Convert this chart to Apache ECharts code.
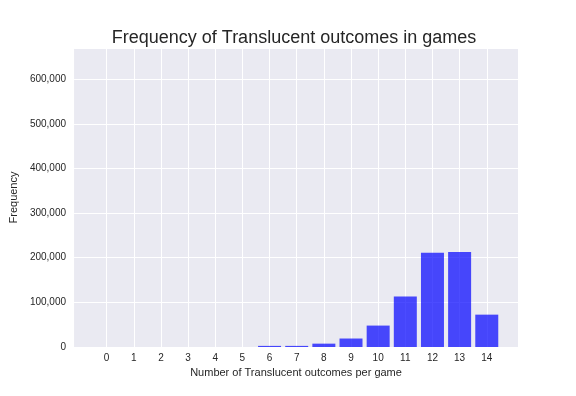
<!DOCTYPE html>
<html><head><meta charset="utf-8">
<script src="https://cdn.jsdelivr.net/npm/echarts@6/dist/echarts.min.js"></script>
<style>html,body{margin:0;padding:0;background:#fff}#c{width:576px;height:396px}</style>
</head><body><div id="c"></div>
<script>
const categories = [0,1,2,3,4,5,6,7,8,9,10,11,12,13,14];
const frequencies = [0,0,0,0,0,0,2500,2500,7500,19000,48000,113000,211000,213000,72500];
const yTicks = [0,100000,200000,300000,400000,500000,600000];

const chart = echarts.init(document.getElementById('c'), null, {renderer:'canvas'});
const font = 'Liberation Sans, Arial, sans-serif';
chart.setOption({
  animation:false,
  backgroundColor:'#ffffff',
  title:{text:'Frequency of Translucent outcomes in games', left:289, top:24, textAlign:'center',
    textStyle:{fontFamily:font, fontSize:18, fontWeight:'normal', color:'#262626'}},
  grid:{left:72, right:58, top:48, bottom:49, backgroundColor:'#EAEAF2', show:true, borderWidth:0},
  xAxis:{type:'value', min:-1.2, max:15.15,
    name:'Number of Translucent outcomes per game', nameLocation:'middle', nameGap:19,
    nameTextStyle:{fontFamily:font, fontSize:11, color:'#262626'},
    axisLine:{show:false}, axisTick:{show:false, customValues:categories},
    axisLabel:{customValues:categories, fontFamily:font, fontSize:10, color:'#262626', margin:6},
    splitLine:{show:true, lineStyle:{color:'#ffffff', width:1}}},
  yAxis:{type:'value', min:0, max:670000, interval:100000,
    name:'Frequency', nameLocation:'middle', nameGap:42,
    nameTextStyle:{fontFamily:font, fontSize:11, color:'#262626'},
    axisLine:{show:false}, axisTick:{show:false},
    axisLabel:{fontFamily:font, fontSize:10, color:'#262626', margin:8,
      customValues:yTicks,
      formatter:v=>v.toLocaleString('en-US')},
    splitLine:{show:true, lineStyle:{color:'#ffffff', width:1}}},
  series:[{type:'bar', data:categories.map((c,i)=>[c,frequencies[i]]), barWidth:23,
    itemStyle:{color:'rgba(0,0,255,0.7)'}}]
});
</script></body></html>
